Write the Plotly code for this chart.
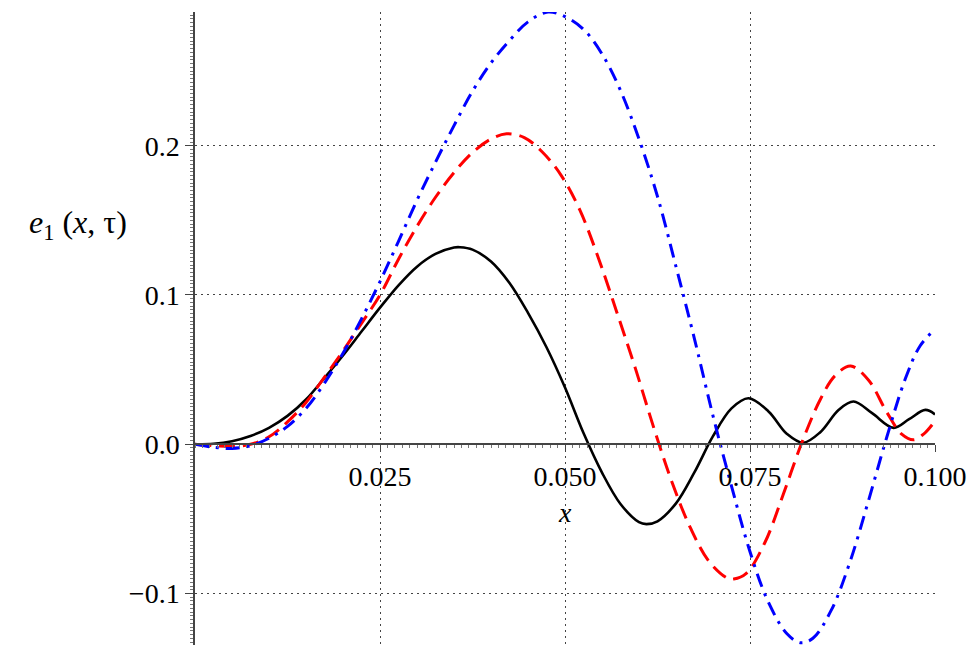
import plotly.graph_objects as go

# ---- data ----
black_x = [0, 0.0025, 0.005, 0.0075, 0.010, 0.0125, 0.015, 0.0175, 0.020, 0.0225, 0.025,
           0.0275, 0.030, 0.0325, 0.035, 0.0358, 0.0375, 0.040, 0.0425, 0.045, 0.0475, 0.050,
           0.0525, 0.055, 0.0575, 0.060, 0.061, 0.0625, 0.065, 0.0675, 0.070, 0.0725, 0.0748,
           0.0775, 0.080, 0.0822, 0.0845, 0.087, 0.089, 0.0915, 0.0944, 0.0965, 0.0987, 0.1]
black_y = [0, 0.0003, 0.002, 0.0055, 0.011, 0.019, 0.030, 0.0445, 0.0595, 0.0755, 0.0915,
           0.1065, 0.119, 0.1275, 0.1318, 0.132, 0.1304, 0.1224, 0.108, 0.088, 0.065, 0.038,
           0.0075, -0.019, -0.040, -0.0522, -0.0535, -0.0516, -0.0396, -0.0187, 0.0054, 0.024, 0.0308,
           0.022, 0.0069, 0.001, 0.0081, 0.0231, 0.0286, 0.0208, 0.011, 0.0168, 0.023, 0.020]

red_x = [0, 0.0025, 0.005, 0.0075, 0.010, 0.0125, 0.015, 0.0175, 0.020, 0.0225, 0.025,
         0.0275, 0.030, 0.0325, 0.035, 0.0375, 0.040, 0.0421, 0.0445, 0.047, 0.0495, 0.052,
         0.0545, 0.057, 0.0595, 0.062, 0.0645, 0.067, 0.0695, 0.072, 0.0728, 0.0745, 0.077,
         0.0795, 0.082, 0.0845, 0.0865, 0.0886, 0.091, 0.0935, 0.0955, 0.0971, 0.0985, 0.1]
red_y = [0, -0.001, -0.0015, 0.0, 0.005, 0.015, 0.028, 0.045, 0.0625, 0.081, 0.100,
         0.124, 0.146, 0.1655, 0.182, 0.1955, 0.2045, 0.208, 0.2055, 0.1955, 0.180, 0.157,
         0.125, 0.0885, 0.051, 0.011, -0.026, -0.0566, -0.0788, -0.0899, -0.0903, -0.0865, -0.066,
         -0.0335, 0.001, 0.030, 0.046, 0.0524, 0.0431, 0.0213, 0.0068, 0.003, 0.007, 0.0156]

blue_x = [0, 0.0025, 0.005, 0.0075, 0.010, 0.0125, 0.015, 0.0175, 0.020, 0.0225, 0.025,
          0.0275, 0.030, 0.0325, 0.035, 0.0375, 0.040, 0.0425, 0.045, 0.0477, 0.050, 0.0525,
          0.055, 0.0575, 0.060, 0.0625, 0.065, 0.0675, 0.070, 0.0725, 0.075, 0.0775, 0.080,
          0.0818, 0.0835, 0.086, 0.0885, 0.091, 0.0935, 0.096, 0.098, 0.1]
blue_y = [0, -0.002, -0.0028, -0.001, 0.004, 0.012, 0.024, 0.041, 0.061, 0.084, 0.109,
          0.136, 0.1635, 0.189, 0.2135, 0.2365, 0.2555, 0.2705, 0.283, 0.2896, 0.2865, 0.278,
          0.2615, 0.237, 0.2045, 0.166, 0.119, 0.0705, 0.019, -0.028, -0.072, -0.106, -0.127,
          -0.133, -0.130, -0.111, -0.079, -0.038, 0.005, 0.044, 0.066, 0.077]

x_ticks = [0.025, 0.05, 0.075, 0.1]
x_ticklabels = ["0.025", "0.050", "0.075", "0.100"]
y_ticks = [-0.1, 0.0, 0.1, 0.2]
y_ticklabels = ["\u22120.1", "0.0", "0.1", "0.2"]

X_RANGE = [0, 0.1]
Y_RANGE = [-0.1345, 0.2896]

FONT = "Liberation Serif"

fig = go.Figure()
fig.add_trace(go.Scatter(x=black_x, y=black_y, mode="lines",
                         line=dict(color="black", width=2.6, shape="spline", smoothing=1.0)))
fig.add_trace(go.Scatter(x=red_x, y=red_y, mode="lines",
                         line=dict(color="#ff0000", width=3, dash="16px,8px",
                                   shape="spline", smoothing=1.0)))
fig.add_trace(go.Scatter(x=blue_x, y=blue_y, mode="lines",
                         line=dict(color="#0000ff", width=3, dash="14px,7px,3px,7px",
                                   shape="spline", smoothing=1.0)))

x_axis_pos = (0 - Y_RANGE[0]) / (Y_RANGE[1] - Y_RANGE[0])

fig.update_layout(
    width=973, height=648,
    margin=dict(l=195, r=38, t=12, b=3),
    plot_bgcolor="white", paper_bgcolor="white",
    showlegend=False,
    font=dict(family=FONT, size=28, color="black"),
    xaxis=dict(
        range=X_RANGE, anchor="free", position=x_axis_pos,
        tickvals=x_ticks, ticktext=x_ticklabels,
        ticks="outside", ticklen=7, tickwidth=1, tickcolor="#444",
        showline=True, linecolor="#444", linewidth=1.5,
        showgrid=True, gridcolor="#444", gridwidth=1.2, griddash="2px,4px",
        zeroline=False,
        minor=dict(ticks="outside", ticklen=3, dtick=0.001, tickcolor="#777", showgrid=False),
        tickfont=dict(family=FONT, size=28),
    ),
    yaxis=dict(
        range=Y_RANGE,
        tickvals=y_ticks, ticktext=y_ticklabels,
        ticks="outside", ticklen=8, tickwidth=1, tickcolor="#444",
        showline=True, linecolor="#444", linewidth=1.5,
        showgrid=True, gridcolor="#444", gridwidth=1.2, griddash="2px,4px",
        zeroline=False,
        minor=dict(ticks="outside", ticklen=3, dtick=0.0025, tickcolor="#777", showgrid=False),
        tickfont=dict(family=FONT, size=28),
    ),
)

fig.add_annotation(
    text="<i>e</i><sub>1</sub> (<i>x</i>, \u03c4)",
    xref="paper", yref="paper", x=-0.227, y=0.664,
    xanchor="left", yanchor="middle", showarrow=False,
    font=dict(family=FONT, size=32, color="black"),
)
fig.add_annotation(
    text="<i>x</i>",
    xref="paper", yref="paper", x=0.5, y=0.21,
    xanchor="center", yanchor="middle", showarrow=False,
    font=dict(family=FONT, size=28, color="black"),
)

fig.write_html("out.html")
